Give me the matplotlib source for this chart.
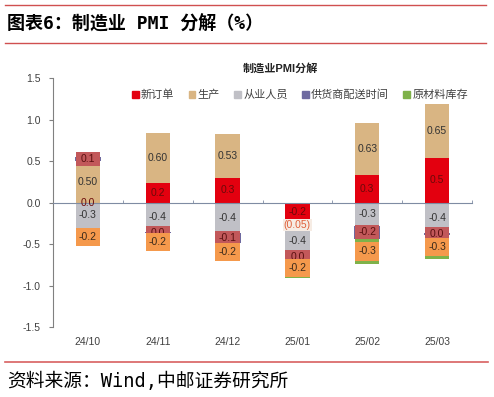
import numpy as np
import matplotlib
matplotlib.use('Agg')
import matplotlib.pyplot as plt
from matplotlib.patches import Patch
from matplotlib.transforms import blended_transform_factory

plt.rcParams['font.family'] = ['Liberation Sans', 'Noto Sans CJK SC', 'DejaVu Sans']

########
# Data #
########

months = ['24/10', '24/11', '24/12', '25/01', '25/02', '25/03']
new_orders = [0.00, 0.24, 0.30, -0.22, 0.33, 0.54]
production = [0.50, 0.60, 0.52, -0.05, 0.63, 0.65]
employment = [-0.31, -0.36, -0.37, -0.38, -0.28, -0.37]
supplier = [0.05, -0.01, -0.12, -0.02, -0.16, -0.02]
raw_stock = [-0.21, -0.21, -0.21, -0.24, -0.30, -0.29]

prod_labels = ['0.50', '0.60', '0.53', '(0.05)', '0.63', '0.65']

names = ['新订单', '生产', '从业人员', '供货商配送时间', '原材料库存']
colors = ['#E3000F', '#D9B583', '#C0C0C6', '#6E6AA0', '#7FB24A']


def fmt(v):
    s = '%.1f' % v
    return '0.0' if s == '-0.0' else s

###########
# Drawing #
###########

fig = plt.figure(figsize=(4.94, 3.97), dpi=100)
ax = fig.add_axes([0.1073, 0.1763, 0.8482, 0.6272])

x = np.arange(len(months))
w = 0.35
series = [new_orders, production, employment, supplier, raw_stock]

pos_base = np.zeros(len(months))
neg_base = np.zeros(len(months))
bottoms = []
for k, vals in enumerate(series):
    vals = np.array(vals)
    b = np.where(vals >= 0, pos_base, neg_base)
    bottoms.append(b)
    width = 0.37 if k == 3 else w
    ax.bar(x, vals, width, bottom=b, color=colors[k], zorder=2)
    pos_base = pos_base + np.where(vals >= 0, vals, 0)
    neg_base = neg_base + np.where(vals < 0, vals, 0)

centers = [bottoms[k] + np.array(series[k]) / 2 for k in range(5)]

# label boxes for supplier / raw materials (like the excel labels)
ax.bar(x, 0.17, w, bottom=centers[3] - 0.085, color='#C2585A', zorder=3)
for i in x:
    ax.text(i, centers[3][i], fmt(supplier[i]), ha='center', va='center',
            fontsize=7.5, color='#5A1010', zorder=4)
ax.bar(x, 0.22, w, bottom=centers[4] - 0.11, color='#F5994C', zorder=5)
for i in x:
    ax.text(i, centers[4][i], fmt(raw_stock[i]), ha='center', va='center',
            fontsize=7.5, color='#3A2A1A', zorder=6)

for i in x:
    ax.text(i, centers[0][i], fmt(new_orders[i]), ha='center', va='center',
            fontsize=7.5, color='#6B0A0A', zorder=4)
    ax.text(i, centers[2][i], fmt(employment[i]), ha='center', va='center',
            fontsize=7.5, color='#333333', zorder=4)
    if production[i] >= 0:
        ax.text(i, centers[1][i], prod_labels[i], ha='center', va='center',
                fontsize=7.5, color='#333333', zorder=4)
    else:
        ax.text(i, centers[1][i] - 0.03, prod_labels[i], ha='center', va='center',
                fontsize=7.5, color='#E0603A', zorder=4,
                bbox=dict(boxstyle='square,pad=0.1', fc='#F6ECE4', ec='none'))

ax.set_ylim(-1.5, 1.5)
ax.set_xlim(-0.5, len(months) - 0.5)
ax.set_yticks(np.arange(-1.5, 1.51, 0.5))
ax.set_yticklabels(['%.1f' % v for v in np.arange(-1.5, 1.51, 0.5)])
ax.tick_params(axis='y', length=3, color='#808080', labelsize=7.5,
               labelcolor='#404040', pad=6)
for s in ['top', 'right']:
    ax.spines[s].set_visible(False)
ax.spines['left'].set_color('#808080')
ax.spines['bottom'].set_position(('data', 0))
ax.spines['bottom'].set_color('#7F8CA3')
ax.spines['bottom'].set_zorder(3.5)
ax.set_xticks(x + 0.5, minor=True)
ax.set_xticks([])
ax.tick_params(axis='x', which='minor', direction='in', length=2.5,
               color='#7F8CA3')

trans = blended_transform_factory(ax.transData, ax.transAxes)
for i in x:
    ax.text(i, -0.06, months[i], transform=trans, ha='center', va='center',
            fontsize=7.5, color='#404040')

handles = [Patch(color=c) for c in colors]
fig.legend(handles, names, loc='center', bbox_to_anchor=(0.607, 0.761), ncol=5,
           frameon=False, fontsize=8, handlelength=0.6, handleheight=0.6,
           handletextpad=0.2, columnspacing=1.3, labelcolor='#404040')

fig.text(0.567, 0.829, '制造业PMI分解', ha='center', va='center', fontsize=8,
         fontweight='bold', color='#222222')

# header / footer
fig.add_artist(plt.Line2D([0.01, 0.983], [0.987, 0.987], color='#D05050', lw=1))
fig.add_artist(plt.Line2D([0.01, 0.983], [0.892, 0.892], color='#D05050', lw=1))
fig.add_artist(plt.Line2D([0.01, 0.988], [0.089, 0.089], color='#D86060', lw=1.2))
fig.text(0.014, 0.938, '图表6：制造业 PMI 分解（%）', ha='left', va='center',
         fontsize=13, fontweight='bold', family=['DejaVu Sans Mono', 'Noto Sans CJK SC'])
fig.text(0.014, 0.040, '资料来源：Wind,中邮证券研究所', ha='left', va='center',
         fontsize=13.5, family=['DejaVu Sans Mono', 'Noto Sans CJK SC'])

fig.savefig('out.png', dpi=100)
